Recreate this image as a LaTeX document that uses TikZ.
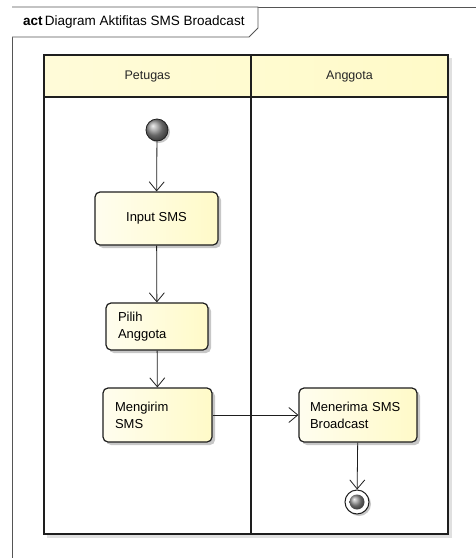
\documentclass[tikz,border=0pt]{standalone}
\usepackage{fontspec}
\setmainfont{Liberation Sans}
\usetikzlibrary{arrows.meta, positioning, shadows, calc}
\definecolor{umlyellow}{HTML}{FFFAC8}
\definecolor{umlframe}{HTML}{555555}
\definecolor{umldark}{HTML}{1E1E1E}

\tikzset{
  actbox/.style={draw=umldark, line width=1.2pt, rounded corners=5pt,
    left color=umlyellow!30, right color=umlyellow,
    drop shadow={shadow xshift=3pt, shadow yshift=-3pt, opacity=0.22, fill=black},
    font=\fontsize{13}{17}\selectfont, inner xsep=12pt, inner ysep=0pt},
  lanelabel/.style={font=\fontsize{12.5}{15}\selectfont, text=black!85},
  flow/.style={draw=umldark, line width=0.8pt, -{Straight Barb[length=9pt,width=15pt]}},
  startdot/.style={circle, draw=umldark, line width=0.8pt, minimum size=22pt,
    inner sep=0pt, ball color=gray!85,
    drop shadow={shadow xshift=2pt, shadow yshift=-2pt, opacity=0.22, fill=black}},
}

\begin{document}
\begin{tikzpicture}[x=1pt, y=-1pt]
  \useasboundingbox (0,0) rectangle (476,558);

  % Frame with title tab
  \draw[umlframe, line width=1pt] (12,558) -- (12,7) -- (476,7);
  \draw[umlframe, line width=0.8pt, fill=white] (12,7) -- (258,7) -- (258,28) -- (249,37) -- (12,37);
  \node[anchor=west, font=\fontsize{13.5}{16}\selectfont, inner sep=0pt] (title) at (23,22)
    {\textbf{act}\,Diagram Aktifitas SMS Broadcast};

  % Swimlanes
  \fill[black!12] (47,58) rectangle (452,538);
  \fill[white] (44,97) rectangle (448,534);
  \shade[left color=umlyellow!70, right color=umlyellow] (44,55) rectangle (448,97);
  \draw[umldark, line width=1.8pt] (44,55) rectangle (448,534);
  \draw[umldark, line width=1.8pt] (44,97) -- (448,97);
  \draw[umldark, line width=1.8pt] (251,55) -- (251,534);
  \node[lanelabel] (petugas) at (147.5,76) {Petugas};
  \node[lanelabel] (anggota) at (349.5,76) {Anggota};

  % Actions
  \node[startdot] (start) at (157,130) {};
  \node[actbox, minimum width=123pt, minimum height=53pt, align=center] (input) at (156.5,218.5) {Input SMS};
  \node[actbox, text width=78pt, minimum height=47pt, align=left] (pilih) at (157,326.5) {Pilih\\Anggota};
  \node[actbox, text width=85pt, minimum height=54pt, align=left] (kirim) at (157.5,415) {Mengirim\\SMS};
  \node[actbox, text width=96pt, inner xsep=11pt, minimum height=54pt, align=left] (terima) at (358,415) {Menerima SMS\\Broadcast};

  % Final node
  \node[circle, draw=umldark, line width=1pt, fill=white, minimum size=24pt, inner sep=0pt,
    drop shadow={shadow xshift=2pt, shadow yshift=-2pt, opacity=0.22, fill=black}] (stop) at (357,502) {};
  \node[circle, minimum size=15pt, inner sep=0pt, ball color=gray!85] (stopdot) at (stop) {};

  % Flows
  \draw[flow] (start) -- (input);
  \draw[flow] (input) -- (pilih);
  \draw[flow] (pilih) -- (kirim);
  \draw[flow] (kirim) -- (terima);
  \draw[flow] (terima) -- (stop);
\end{tikzpicture}
\end{document}
